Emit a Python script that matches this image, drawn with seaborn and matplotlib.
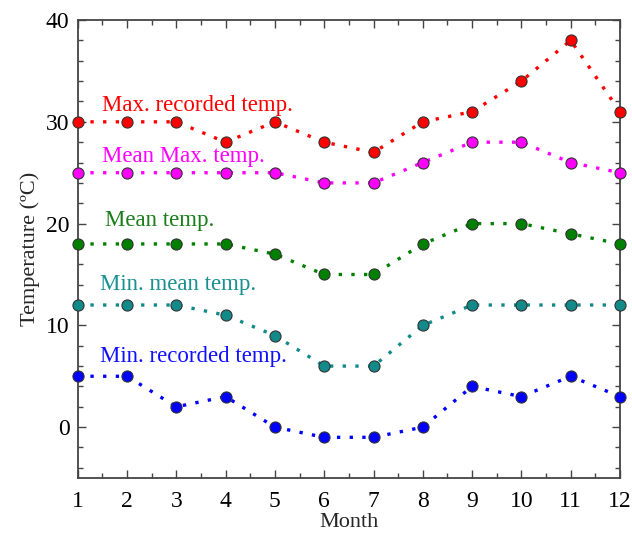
import pandas as pd
import matplotlib
matplotlib.use('Agg')
import matplotlib.pyplot as plt
import seaborn as sns
from matplotlib.ticker import MultipleLocator

# Dados mensais de temperatura
meses = list(range(1, 13))
max_registrada = [30, 30, 30, 28, 30, 28, 27, 30, 31, 34, 38, 31]
media_max = [25, 25, 25, 25, 25, 24, 24, 26, 28, 28, 26, 25]
media = [18, 18, 18, 18, 17, 15, 15, 18, 20, 20, 19, 18]
min_media = [12, 12, 12, 11, 9, 6, 6, 10, 12, 12, 12, 12]
min_registrada = [5, 5, 2, 3, 0, -1, -1, 0, 4, 3, 5, 3]

series_nomes = ['Max. recorded temp.', 'Mean Max. temp.', 'Mean temp.',
                'Min. mean temp.', 'Min. recorded temp.']
series_valores = [max_registrada, media_max, media, min_media, min_registrada]
cores = ['#ff0000', '#ff00ff', '#008000', '#138a8a', '#0000ff']
cores_texto = ['#ff0000', '#ff00ff', '#1a7f1a', '#1a9090', '#1010ff']
# posicao dos rotulos (x, y) em coordenadas de dados
rotulos_pos = [(1.49, 31.6), (1.49, 26.6), (1.55, 20.3), (1.45, 14.0), (1.45, 6.9)]

df = pd.DataFrame({
    'Month': meses * len(series_nomes),
    'Temp': sum(series_valores, []),
    'Serie': sum([[n] * 12 for n in series_nomes], []),
})

sns.set_style('ticks')
plt.rcParams['font.family'] = ['Liberation Serif', 'DejaVu Serif']

fig = plt.figure(figsize=(6.32, 5.35), dpi=100)
ax = fig.add_axes([0.123, 0.1065, 0.858, 0.856])

for nome, cor in zip(series_nomes, cores):
    sub = df[df['Serie'] == nome]
    sns.lineplot(data=sub, x='Month', y='Temp', ax=ax, color=cor,
                 linestyle=(0, (1, 2.8)), linewidth=2.4,
                 marker='o', markersize=8, markeredgecolor='#333333',
                 markeredgewidth=0.8, dash_capstyle='butt', clip_on=False,
                 zorder=3)

for nome, cor, (tx, ty) in zip(series_nomes, cores_texto, rotulos_pos):
    ax.text(tx, ty, nome, color=cor, fontsize=16.5, va='center', ha='left')

ax.set_xlim(1, 12)
ax.set_ylim(-5, 40)
ax.xaxis.set_major_locator(MultipleLocator(1))
ax.xaxis.set_minor_locator(MultipleLocator(0.5))
ax.yaxis.set_major_locator(MultipleLocator(10))
ax.yaxis.set_minor_locator(MultipleLocator(2))
ax.tick_params(which='both', direction='in', top=True, right=True,
               colors='#444444', labelcolor='black', width=1)
ax.tick_params(which='major', length=6, labelsize=17)
ax.tick_params(axis='x', which='major', pad=9)
ax.tick_params(axis='y', which='major', pad=6)
ax.tick_params(which='minor', length=3.5)
for s in ax.spines.values():
    s.set_color('#444444')
    s.set_linewidth(1.3)

ax.set_xlabel('Month', fontsize=16, labelpad=1)
ax.set_ylabel('Temperature (ºC)', fontsize=16, labelpad=4)

fig.savefig('out.png', dpi=100)
